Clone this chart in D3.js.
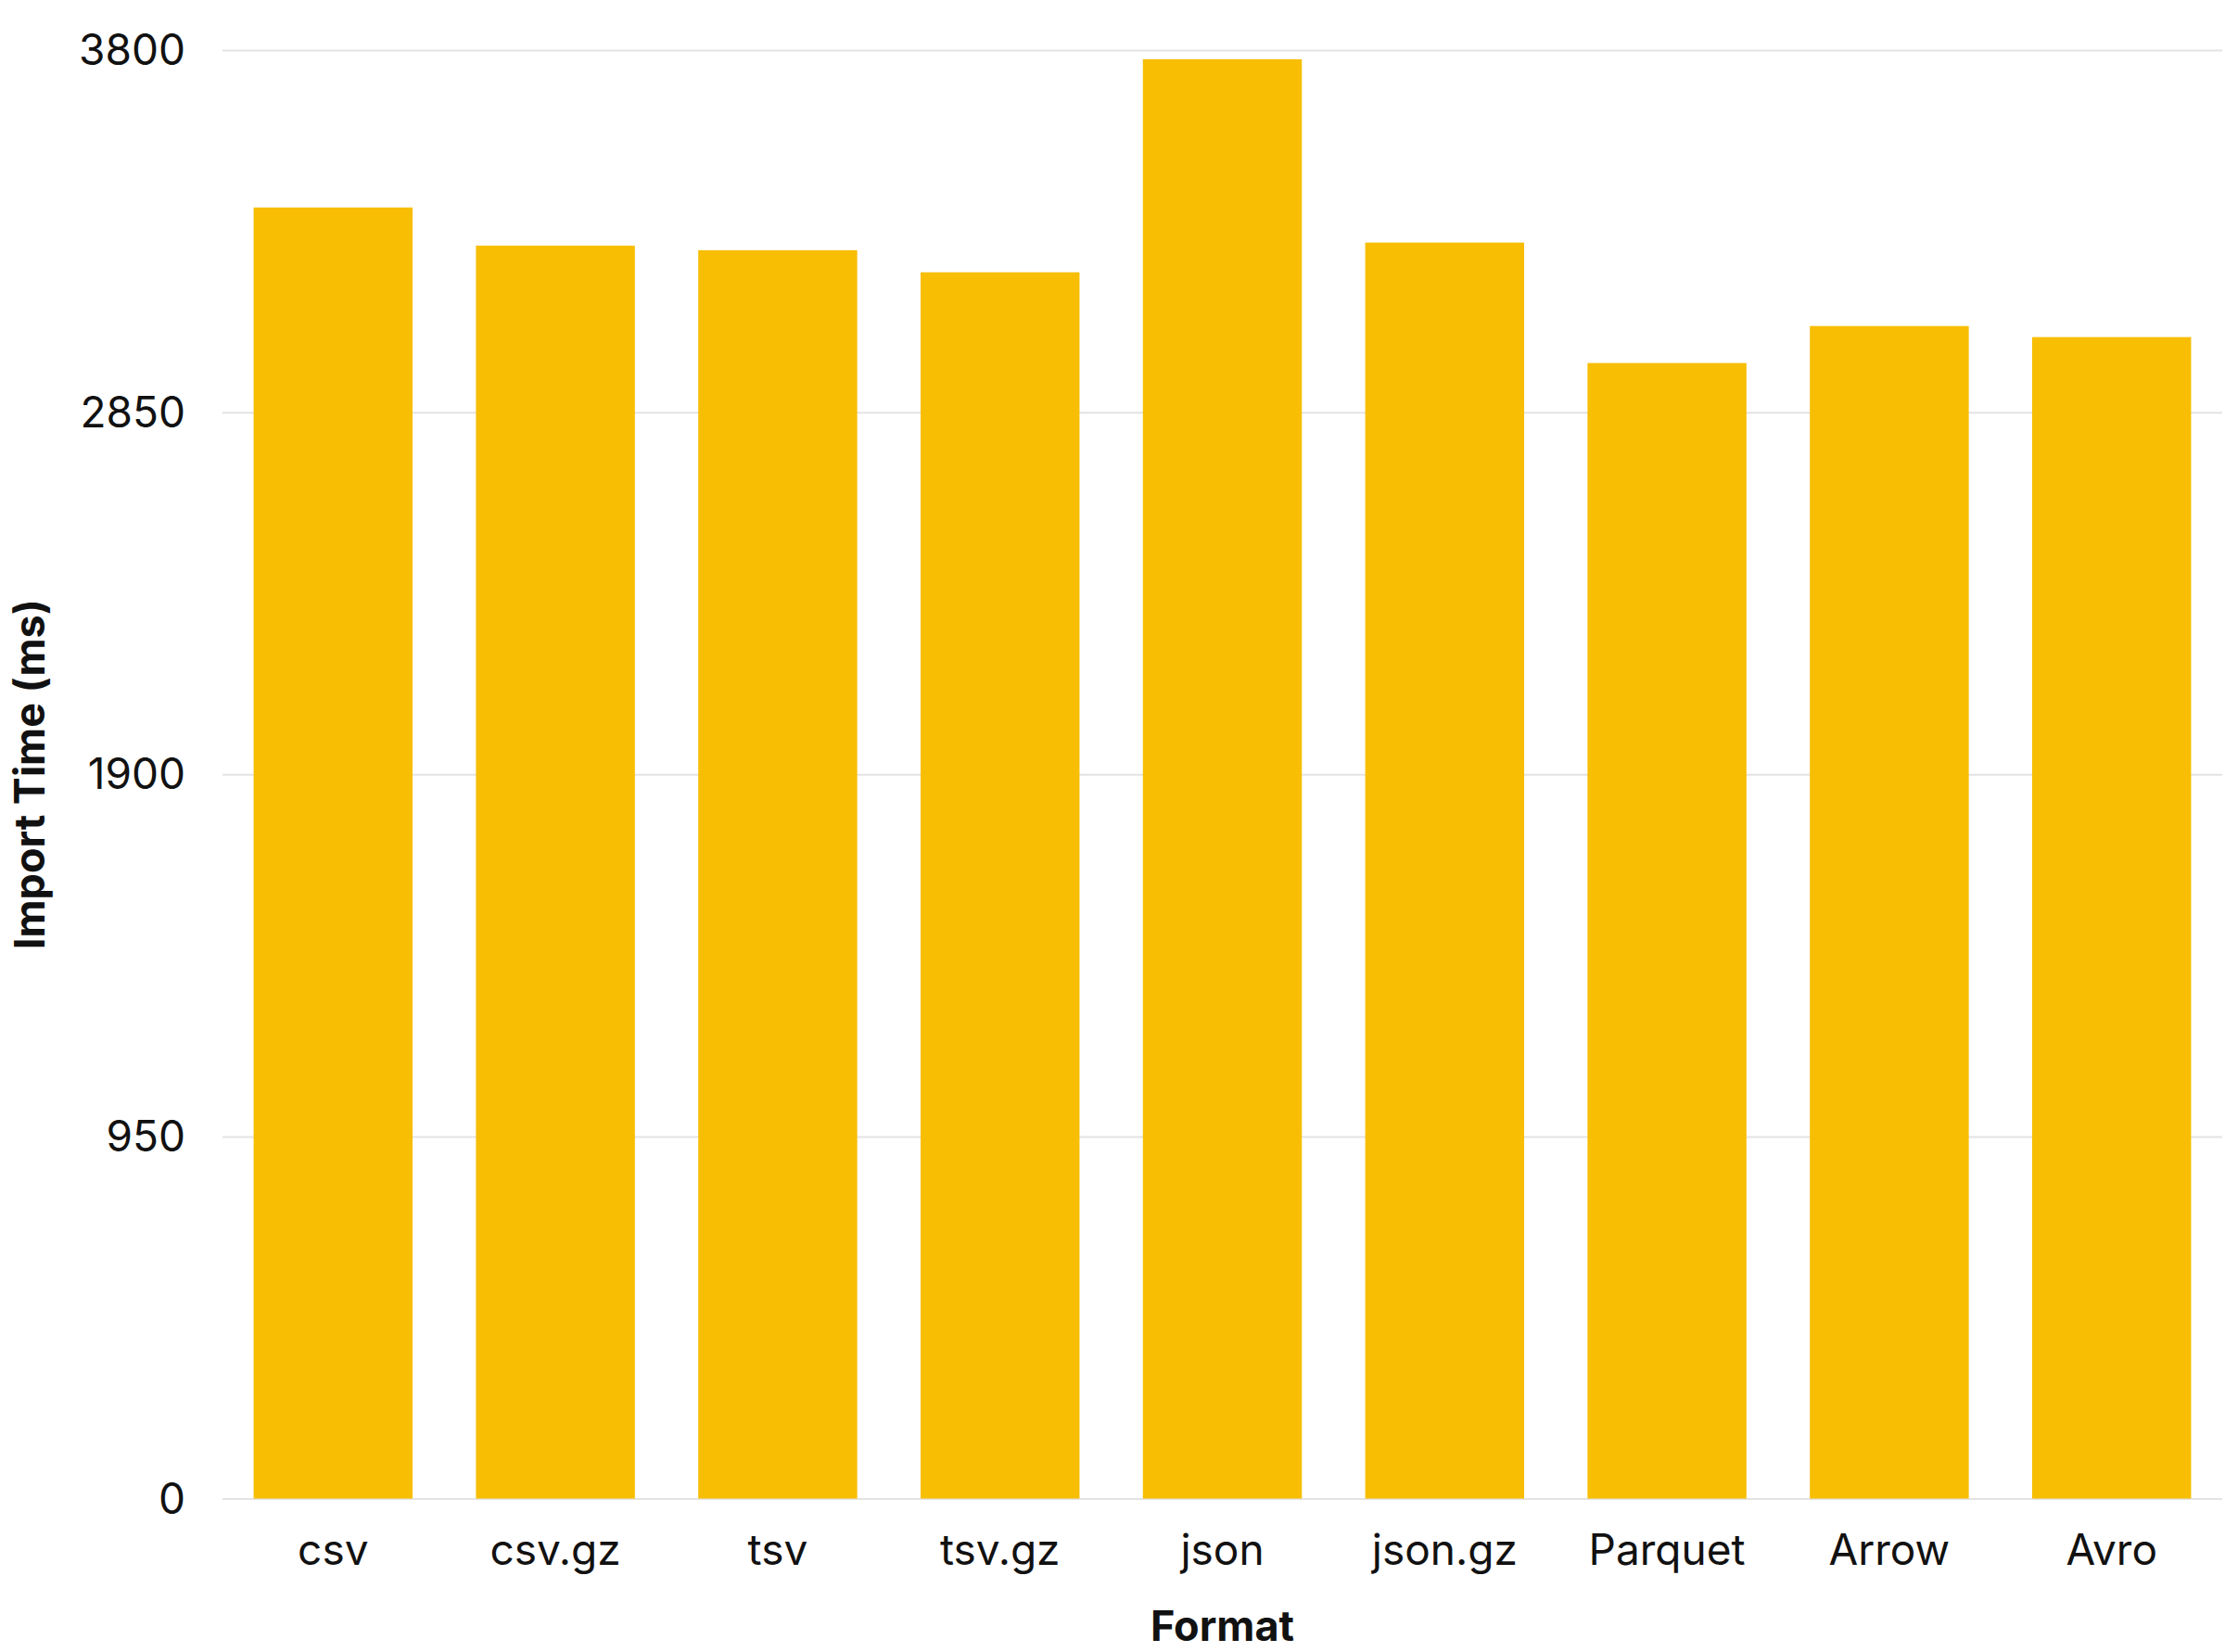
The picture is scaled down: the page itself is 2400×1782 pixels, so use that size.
<!DOCTYPE html>
<html>
<head>
<meta charset="utf-8">
<script src="https://cdn.jsdelivr.net/npm/d3@7"></script>
<style>
body { margin: 0; background: #ffffff; }
</style>
</head>
<body>
<script>
var formats = ["csv", "csv.gz", "tsv", "tsv.gz", "json", "json.gz", "Parquet", "Arrow", "Avro"];
var importTimes = [3387, 3287, 3275, 3217, 3776, 3295, 2979, 3076, 3047];
var yTicks = [0, 950, 1900, 2850, 3800];

var w = 2400;
var h = 1782;
var plotLeft = 240;
var plotRight = 2397;
var plotTop = 54;
var plotBottom = 1616.5;

var font = "Inter, 'Noto Sans', sans-serif";

var xScale = d3.scaleBand()
				.domain(formats)
				.range([plotLeft, plotRight])
				.paddingInner(0.285)
				.paddingOuter(0.14);

var yScale = d3.scaleLinear()
				.domain([0, 3800])
				.range([plotBottom, plotTop]);

var svg = d3.select("body")
			.append("svg")
			.attr("width", w)
			.attr("height", h);

// gridlines + y labels
var yAxis = d3.axisLeft(yScale)
				.tickValues(yTicks)
				.tickFormat(d3.format("d"))
				.tickSize(-(plotRight - plotLeft))
				.tickPadding(40);

var appendY = svg.append("g")
			  .attr("transform", "translate(" + plotLeft + ",0)")
			  .call(yAxis);

appendY.select(".domain").remove();
appendY.selectAll(".tick line")
			.attr("stroke", "#e3e3e3")
			.attr("stroke-width", 2);
appendY.selectAll(".tick text")
			.attr("font-family", font)
			.attr("font-size", "46px")
			.attr("fill", "#111111")
			.attr("x", -40)
			.attr("dy", "0.34em");

var bars = svg.append("g")
			.selectAll("rect")
			.data(formats)
			.enter()
			.append("rect")
			.attr("x", function(d){ return xScale(d); })
			.attr("width", xScale.bandwidth())
			.attr("y", function(d, i){ return yScale(importTimes[i]); })
			.attr("height", function(d, i){ return plotBottom - yScale(importTimes[i]); })
			.attr("fill", "#f7be04");

var xAxis = d3.axisBottom(xScale)
				.tickSize(0)
				.tickPadding(0);

var appendX = svg.append("g")
			  .attr("transform", "translate(0," + plotBottom + ")")
			  .call(xAxis);

appendX.select(".domain").remove();
appendX.selectAll(".tick text")
			.attr("font-family", font)
			.attr("font-size", "46px")
			.attr("fill", "#111111")
			.attr("y", 71.5)
			.attr("dy", 0);

svg.append("text")
			.attr("x", (plotLeft + plotRight) / 2)
			.attr("y", 1770)
			.attr("text-anchor", "middle")
			.attr("font-family", font)
			.attr("font-size", "45px")
			.attr("font-weight", "bold")
			.attr("fill", "#111111")
			.text("Format");

svg.append("text")
			.attr("transform", "translate(48," + ((plotTop + plotBottom) / 2) + ") rotate(-90)")
			.attr("text-anchor", "middle")
			.attr("font-family", font)
			.attr("font-size", "45px")
			.attr("font-weight", "bold")
			.attr("fill", "#111111")
			.text("Import Time (ms)");
</script>
</body>
</html>
